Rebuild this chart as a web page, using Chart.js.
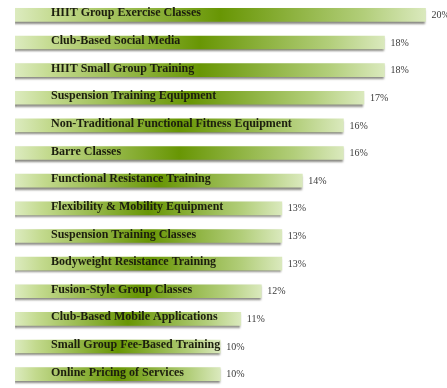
<!DOCTYPE html>
<html>
<head>
<meta charset="utf-8">
<script src="https://cdn.jsdelivr.net/npm/chart.js@4/dist/chart.umd.min.js"></script>
<style>
  html, body { margin: 0; padding: 0; background: #fff; }
  #wrap { width: 447px; height: 388px; }
</style>
</head>
<body>
<div id="wrap"><canvas id="trendsChart"></canvas></div>
<script>
const categories = [
  "HIIT Group Exercise Classes",
  "Club-Based Social Media",
  "HIIT Small Group Training",
  "Suspension Training Equipment",
  "Non-Traditional Functional Fitness Equipment",
  "Barre Classes",
  "Functional Resistance Training",
  "Flexibility & Mobility Equipment",
  "Suspension Training Classes",
  "Bodyweight Resistance Training",
  "Fusion-Style Group Classes",
  "Club-Based Mobile Applications",
  "Small Group Fee-Based Training",
  "Online Pricing of Services",
];
const percentages = [20, 18, 18, 17, 16, 16, 14, 13, 13, 13, 12, 11, 10, 10];

// each bar gets its own gradient: pale at both ends, deep olive in the middle,
// plus a soft drop shadow underneath
const barStyle = {
  id: "barStyle",
  beforeDatasetsDraw(chart) {
    const ctx = chart.ctx;
    chart.getDatasetMeta(0).data.forEach((bar) => {
      const g = ctx.createLinearGradient(bar.base, 0, bar.x, 0);
      g.addColorStop(0, "#dcebbf");
      g.addColorStop(0.1, "#c3da8e");
      g.addColorStop(0.5, "#689604");
      g.addColorStop(0.85, "#b2ce7a");
      g.addColorStop(1, "#dae9bd");
      bar.options.backgroundColor = g;
    });
    ctx.save();
    ctx.shadowColor = "rgba(60,60,50,0.6)";
    ctx.shadowOffsetX = -1;
    ctx.shadowOffsetY = 2;
    ctx.shadowBlur = 2;
  },
  afterDatasetsDraw(chart) {
    chart.ctx.restore();
  },
};

// category names inside the bars, values after the bar ends
const barText = {
  id: "barText",
  afterDatasetsDraw(chart) {
    const ctx = chart.ctx;
    const meta = chart.getDatasetMeta(0);
    ctx.save();
    ctx.textBaseline = "middle";
    meta.data.forEach((bar, i) => {
      ctx.fillStyle = "#1c1e0e";
      ctx.font = "bold 12px 'Liberation Serif', serif";
      ctx.textAlign = "left";
      ctx.fillText(categories[i], 51, bar.y - 1.5);
      ctx.fillStyle = "#3a3a3a";
      ctx.font = "10px 'Liberation Serif', serif";
      ctx.fillText(percentages[i] + "%", bar.x + 6, bar.y + 0.5);
    });
    ctx.restore();
  },
};

new Chart(document.getElementById("trendsChart"), {
  type: "bar",
  data: {
    labels: categories,
    datasets: [
      {
        data: percentages,
        // a function keeps every bar's options object separate
        backgroundColor: () => "#7ea628",
        borderWidth: 0,
        barThickness: 13,
      },
    ],
  },
  options: {
    indexAxis: "y",
    responsive: true,
    maintainAspectRatio: false,
    animation: false,
    layout: { padding: { left: 15, right: 3, top: 1, bottom: 0 } },
    plugins: {
      legend: { display: false },
      tooltip: { enabled: false },
    },
    scales: {
      x: { min: 0, max: 20.9, display: false },
      y: { display: false },
    },
  },
  plugins: [barStyle, barText],
});
</script>
</body>
</html>
